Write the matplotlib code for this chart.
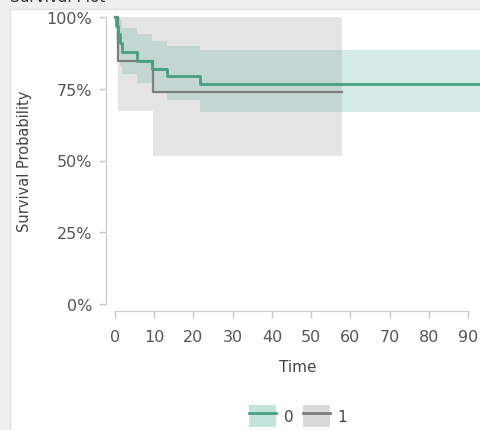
import matplotlib
matplotlib.use("Agg")
import matplotlib.pyplot as plt
from matplotlib.patches import Patch, Rectangle
from matplotlib.lines import Line2D
from matplotlib.ticker import PercentFormatter

# Kaplan-Meier estimates per group (time, survival, 95% CI)
time_0 = [0, 0.3, 0.7, 1.2, 1.8, 5.6, 9.4, 13.3, 21.7, 93]
surv_0 = [1.0, 0.97, 0.94, 0.91, 0.878, 0.847, 0.819, 0.794, 0.767, 0.767]
lower_0 = [1.0, 0.91, 0.86, 0.83, 0.80, 0.77, 0.74, 0.71, 0.669, 0.669]
upper_0 = [1.0, 1.0, 1.0, 0.99, 0.96, 0.94, 0.916, 0.899, 0.885, 0.885]

time_1 = [0, 0.8, 9.8, 58]
surv_1 = [1.0, 0.847, 0.739, 0.739]
lower_1 = [1.0, 0.672, 0.516, 0.516]
upper_1 = [1.0, 1.0, 1.0, 1.0]

groups = ["0", "1"]
line_colors = ["#46a082", "#7d7d7d"]
band_colors = ["#53b397", "#a0a0a0"]
band_alpha = [0.25, 0.28]

W, H = 481, 431
fig = plt.figure(figsize=(W / 100, H / 100), dpi=100, facecolor="#efefef")
plt.rcParams["font.family"] = "DejaVu Sans"

# white results panel behind everything
fig.patches.append(Rectangle((10 / W, -0.05), 1.0, (H - 10) / H + 0.05,
                             transform=fig.transFigure, facecolor="white",
                             edgecolor="#e2e2e2", lw=1, zorder=-5))
fig.text(10 / W, 1 - 1.5 / H, "Survival Plot", fontsize=11, color="#333333",
         va="baseline", ha="left")

ax = fig.add_axes([115 / W, (H - 305) / H, (W - 115) / W, (305 - 18) / H])
ax.set_facecolor("none")

data = [(time_0, surv_0, lower_0, upper_0), (time_1, surv_1, lower_1, upper_1)]
for i, (t, s, lo, hi) in enumerate(data):
    ax.fill_between(t, lo, hi, step="post", color=band_colors[i],
                    alpha=band_alpha[i], lw=0, zorder=1)
for i, (t, s, lo, hi) in enumerate(data):
    ax.plot(t, s, drawstyle="steps-post", color=line_colors[i],
            lw=2.0 if i == 0 else 1.6, zorder=3 - i, clip_on=False)

ax.set_xlim(0, (W - 115) / ((468 - 115) / 90))
ax.set_ylim(0, 1)
ax.set_xticks(range(0, 91, 10))
ax.set_yticks([0, 0.25, 0.5, 0.75, 1.0])
ax.yaxis.set_major_formatter(PercentFormatter(1.0, decimals=0))

for side in ["top", "right"]:
    ax.spines[side].set_visible(False)
ax.spines["left"].set_position(("outward", 6.5))
ax.spines["bottom"].set_position(("outward", 5))
ax.spines["left"].set_bounds(0, 1)
ax.spines["bottom"].set_bounds(0, 90)
for side in ["left", "bottom"]:
    ax.spines[side].set_color("#c8c8c8")
ax.tick_params(colors="#c8c8c8", labelcolor="#555555", labelsize=11.5,
               length=5, width=1)
ax.tick_params(axis="y", pad=5)
ax.tick_params(axis="x", pad=8)

ax.set_xlabel("Time", fontsize=11, color="#444444", labelpad=11)
ax.set_ylabel("Survival Probability", fontsize=10.5, color="#444444",
              labelpad=10)

handles = [(Patch(facecolor=band_colors[i], alpha=band_alpha[i] + 0.1, lw=0),
            Line2D([], [], color=line_colors[i], lw=2))
           for i in range(2)]
fig.legend(handles, groups, loc="center", ncol=2, frameon=False,
           bbox_to_anchor=(298 / W, 1 - 417 / H), fontsize=11,
           handlelength=1.8, handleheight=1.8, handletextpad=0.5,
           columnspacing=0.6, labelcolor="#444444")

fig.savefig("out.png", dpi=100, facecolor=fig.get_facecolor())
